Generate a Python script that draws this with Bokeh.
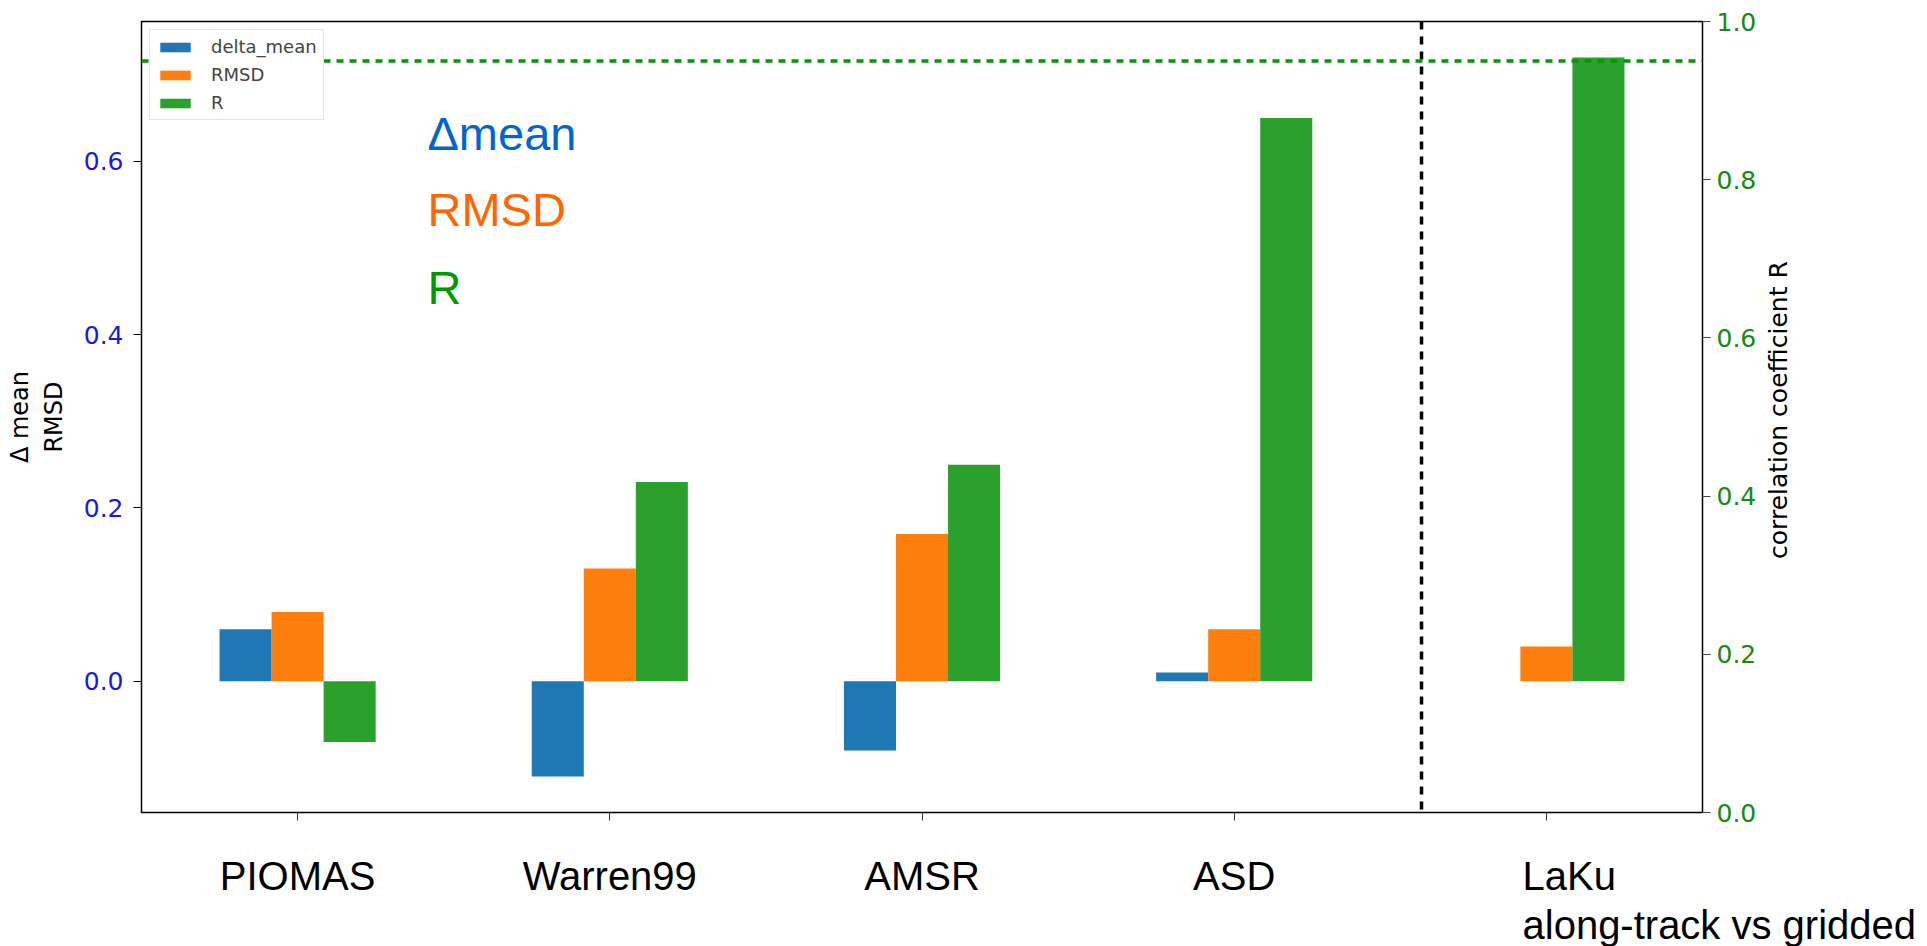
import math

from bokeh.embed import file_html
from bokeh.models import (ColumnDataSource, FixedTicker, Label, Legend, LegendItem,
                          LinearAxis, PrintfTickFormatter, Range1d, Span, Title)
from bokeh.plotting import figure
from bokeh.resources import INLINE
from bokeh.transform import dodge

# ---- data -------------------------------------------------------------
categories = ["PIOMAS", "Warren99", "AMSR", "ASD", "LaKu"]
sublabel = "along-track vs gridded"
delta_mean = [0.06, -0.11, -0.08, 0.01, float("nan")]
rmsd = [0.08, 0.13, 0.17, 0.06, 0.04]
r_values = [-0.07, 0.23, 0.25, 0.65, 0.72]
r_reference = 0.95          # horizontal reference on the correlation axis
separator_x = 3.6           # divider before the LaKu comparison
left_ticks = [0.0, 0.2, 0.4, 0.6]
right_ticks = [0.0, 0.2, 0.4, 0.6, 0.8, 1.0]
right_title = "correlation coefficient R"

series_colors = ["#1f77b4", "#ff7f0e", "#2ca02c"]
BAR_W = 0.5 / 3

# ---- figure -----------------------------------------------------------
n = len(categories)
finite = [v for v in delta_mean + rmsd + r_values if not math.isnan(v)]
ymin, ymax = min(finite), max(finite)
pad = 0.05 * (ymax - ymin)

FRAME_H = 946 - 21 - 134
p = figure(width=1927, height=946, output_backend="svg", toolbar_location=None,
           x_range=Range1d(-0.5, n - 0.5), y_range=Range1d(ymin - pad, ymax + pad),
           min_border_left=141, min_border_right=225, min_border_top=21,
           min_border_bottom=134)
p.background_fill_color = "white"
p.border_fill_color = "white"
p.outline_line_color = "black"
p.outline_line_width = 1.5
p.xgrid.visible = False
p.ygrid.visible = False

src = ColumnDataSource(dict(idx=list(range(n)), delta=delta_mean, rmsd=rmsd, r=r_values))

r1 = p.vbar(x=dodge("idx", -BAR_W, range=p.x_range), top="delta", bottom=0, width=BAR_W,
            source=src, fill_color=series_colors[0], line_color=None)
r2 = p.vbar(x=dodge("idx", 0.0, range=p.x_range), top="rmsd", bottom=0, width=BAR_W,
            source=src, fill_color=series_colors[1], line_color=None)
r3 = p.vbar(x=dodge("idx", BAR_W, range=p.x_range), top="r", bottom=0, width=BAR_W,
            source=src, fill_color=series_colors[2], line_color=None)

# ---- bottom: tick marks on the first axis, names on a second one ---------
xa = p.xaxis[0]
xa.ticker = FixedTicker(ticks=list(range(n)))
xa.major_label_overrides = {i: "" for i in range(n)}
xa.major_label_text_font_size = "1px"
xa.major_label_standoff = 0
xa.major_tick_out = 8
xa.major_tick_in = 0
xa.major_tick_line_color = "#333333"
xa.minor_tick_line_color = None
xa.axis_line_color = None

# the last name is set flush-left under its group
laku_shift = 0.073
name_pos = [float(i) for i in range(n - 1)] + [n - 1 + laku_shift]
xb = LinearAxis(ticker=FixedTicker(ticks=name_pos),
                major_label_overrides={pos: c for pos, c in zip(name_pos, categories)})
xb.major_label_text_font = "Liberation Sans"
xb.major_label_text_font_size = "40px"
xb.major_label_text_color = "black"
xb.major_label_standoff = 33
xb.major_tick_out = 0
xb.major_tick_in = 0
xb.major_tick_line_color = None
xb.minor_tick_line_color = None
xb.axis_line_color = None
p.add_layout(xb, "below")

p.add_layout(Title(text=sublabel, align="left", offset=1381, text_font="Liberation Sans",
                   text_font_size="40px", text_font_style="normal", text_color="black",
                   standoff=0), "below")

# ---- left axis --------------------------------------------------------
ya = p.yaxis[0]
ya.ticker = FixedTicker(ticks=left_ticks)
ya.formatter = PrintfTickFormatter(format="%.1f")
ya.major_label_text_font = "DejaVu Sans"
ya.major_label_text_font_size = "25px"
ya.major_label_text_color = "#1a1ad6"
ya.major_label_standoff = 10
ya.major_tick_out = 8
ya.major_tick_in = 0
ya.minor_tick_line_color = None
ya.axis_line_color = None
ya.axis_label = "\u0394 mean\nRMSD"
ya.axis_label_text_font = "DejaVu Sans"
ya.axis_label_text_font_size = "24px"
ya.axis_label_text_font_style = "normal"
ya.axis_label_text_color = "black"
ya.axis_label_standoff = 13

# ---- right axis (correlation) -----------------------------------------
p.extra_y_ranges = {"r": Range1d(0, 1)}
ra = LinearAxis(y_range_name="r", ticker=FixedTicker(ticks=right_ticks),
                formatter=PrintfTickFormatter(format="%.1f"))
ra.major_label_text_font = "DejaVu Sans"
ra.major_label_text_font_size = "25px"
ra.major_label_text_color = "#158a15"
ra.major_label_standoff = 6
ra.major_tick_out = 8
ra.major_tick_in = 0
ra.major_tick_line_color = "#444444"
ra.minor_tick_line_color = None
ra.axis_line_color = None
p.add_layout(ra, "right")

# axis title for the correlation scale, reading upwards; the rotated label
# starts at its tick, so the tick sits half a text length below the centre
title_px = 25
title_len_px = 12.37 * title_px
title_center = 0.516
title_start = title_center - 0.5 * title_len_px / FRAME_H
rt = LinearAxis(y_range_name="r", ticker=FixedTicker(ticks=[title_start]),
                major_label_overrides={title_start: right_title})
rt.major_label_orientation = math.pi / 2
rt.major_label_text_font = "DejaVu Sans"
rt.major_label_text_font_size = f"{title_px}px"
rt.major_label_text_color = "black"
rt.major_label_standoff = 19
rt.major_tick_out = 0
rt.major_tick_in = 0
rt.major_tick_line_color = None
rt.minor_tick_line_color = None
rt.axis_line_color = None
p.add_layout(rt, "right")

# ---- reference lines --------------------------------------------------
p.add_layout(Span(location=separator_x, dimension="height", line_color="black",
                  line_width=3.5, line_dash="8 7"))
p.add_layout(Span(location=r_reference, dimension="width", y_range_name="r",
                  line_color="#009a00", line_width=3.5, line_dash="7 6"))

# ---- in-plot annotations ----------------------------------------------
note_font = "Liberation Sans"
for txt, col, yy in [("\u0394mean", "#0066cc", 0.632),
                     ("RMSD", "#ff6600", 0.544),
                     ("R", "#009900", 0.455)]:
    p.add_layout(Label(x=0.416, y=yy, text=txt, text_color=col, text_font=note_font,
                       text_font_size="47px", text_baseline="alphabetic",
                       text_align="left"))

# ---- legend -----------------------------------------------------------
legend = Legend(items=[LegendItem(label="delta_mean", renderers=[r1]),
                       LegendItem(label="RMSD", renderers=[r2]),
                       LegendItem(label="R", renderers=[r3])],
                location="top_left")
legend.label_text_font = "DejaVu Sans"
legend.label_text_font_size = "18px"
legend.glyph_width = 38
legend.glyph_height = 12
legend.label_height = 18
legend.spacing = 7
legend.padding = 6
legend.margin = 8
legend.label_standoff = 17
legend.border_line_color = "#cccccc"
legend.border_line_width = 1.5
legend.background_fill_color = "white"
legend.background_fill_alpha = 1.0
p.add_layout(legend)

open("out.html", "w").write(file_html(p, INLINE))
